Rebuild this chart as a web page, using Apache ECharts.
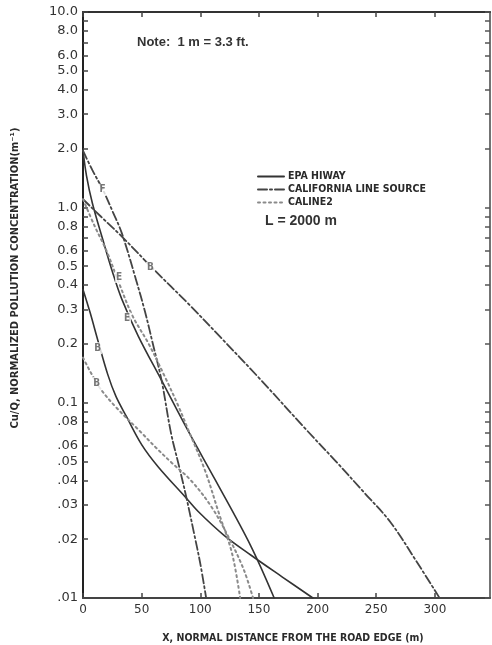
<!DOCTYPE html>
<html>
<head>
<meta charset="utf-8">
<script src="https://cdn.jsdelivr.net/npm/echarts@6/dist/echarts.min.js"></script>
<style>
html,body{margin:0;padding:0;background:#fff;}
#chart{width:492px;height:645px;}
</style>
</head>
<body>
<div id="chart"></div>
<script>
// ---- data (x: distance from road edge, m ; y: normalized concentration, 1/m)
const xTicks = [0, 50, 100, 150, 200, 250, 300];
const yTickValues = [10, 8, 6, 5, 4, 3, 2, 1, 0.8, 0.6, 0.5, 0.4, 0.3, 0.2, 0.1, 0.08, 0.06, 0.05, 0.04, 0.03, 0.02, 0.01];
const yTickLabels = ['10.0', '8.0', '6.0', '5.0', '4.0', '3.0', '2.0', '1.0', '0.8', '0.6', '0.5', '0.4', '0.3', '0.2', '0.1', '.08', '.06', '.05', '.04', '.03', '.02', '.01'];
const yMinorTicks = [10, 9, 8, 7, 6, 5, 4, 3, 2, 1, 0.9, 0.8, 0.7, 0.6, 0.5, 0.4, 0.3, 0.2, 0.1, 0.09, 0.08, 0.07, 0.06, 0.05, 0.04, 0.03, 0.02, 0.01];

const epaE = [[0,1.96],[3,1.45],[8,1.05],[17,0.68],[25,0.47],[33,0.34],[47,0.22],[67,0.13],[90,0.071],[113,0.04],[143,0.0185],[163,0.01]];
const epaB = [[0,0.38],[6,0.29],[12.5,0.21],[21,0.14],[28,0.108],[37,0.085],[50,0.061],[64,0.047],[87,0.033],[98,0.0278],[120,0.021],[143,0.0166],[170,0.0128],[196,0.01]];
const califF = [[0,1.95],[8,1.55],[17,1.23],[25,0.96],[33,0.74],[45,0.43],[53,0.29],[60,0.195],[67,0.13],[75,0.07],[82,0.047],[88,0.033],[95,0.021],[100,0.015],[105,0.01]];
const califB = [[0,1.1],[15,0.9],[34,0.70],[59,0.49],[90,0.32],[117,0.217],[150,0.134],[191,0.072],[215,0.0505],[240,0.0345],[262,0.0245],[284,0.0155],[304,0.01]];
const calineE = [[0,1.1],[10,0.8],[20,0.6],[30,0.42],[42,0.28],[56,0.2],[70,0.135],[81,0.097],[90,0.072],[104,0.045],[116,0.027],[127,0.017],[134,0.01]];
const calineB = [[0,0.17],[14,0.12],[28,0.095],[50,0.07],[62,0.059],[76,0.049],[92,0.04],[110,0.029],[125,0.02],[137,0.014],[145,0.01]];

const stabilityLabels = [['F',16.7,1.23],['B',57.5,0.49],['E',30.8,0.44],['E',37.5,0.27],['B',12.5,0.19],['B',11.7,0.126]];

const seriesNames = ['EPA HIWAY', 'CALIFORNIA LINE SOURCE', 'CALINE2'];

// ---- styles
const INK = '#2a2a2a';
const condensed = '"Liberation Sans Narrow","DejaVu Sans Condensed","Roboto Condensed",sans-serif';
const styles = {
  'EPA HIWAY': {color: '#333', width: 1.6, type: 'solid'},
  'CALIFORNIA LINE SOURCE': {color: '#444', width: 1.8, type: [9, 3, 2, 3]},
  'CALINE2': {color: '#8a8a8a', width: 2, type: [2, 3.5]}
};

function lineSeries(name, data) {
  const s = styles[name];
  return {
    name: name, type: 'line', data: data, smooth: 0.35, symbol: 'none', showSymbol: false,
    lineStyle: {color: s.color, width: s.width, type: s.type, cap: 'round'},
    itemStyle: {color: s.color}, z: 2
  };
}

function yLabel(v) {
  for (let i = 0; i < yTickValues.length; i++) {
    if (Math.abs(v - yTickValues[i]) / yTickValues[i] < 1e-6) return yTickLabels[i];
  }
  return '';
}

const chart = echarts.init(document.getElementById('chart'), null, {renderer: 'canvas'});
chart.setOption({
  animation: false,
  backgroundColor: '#fff',
  grid: {left: 83, top: 12, right: 2, bottom: 47},
  legend: {
    orient: 'vertical', left: 252, top: 166, itemWidth: 26, itemHeight: 8, itemGap: 2,
    data: seriesNames,
    itemStyle: {opacity: 0},
    textStyle: {fontFamily: condensed, fontWeight: 'bold', fontSize: 10.5, color: INK, padding: [0, 0, 0, -1]}
  },
  xAxis: [{
    type: 'value', min: 0, max: 347, interval: 50,
    axisLine: {onZero: false, lineStyle: {color: '#444', width: 2}},
    axisTick: {inside: true, length: 5, lineStyle: {color: '#444', width: 1.5}, customValues: xTicks},
    axisLabel: {customValues: xTicks, margin: 6, fontFamily: '"DejaVu Sans",sans-serif', fontSize: 12, color: '#333'},
    splitLine: {show: false}
  }, {
    type: 'value', position: 'top', min: 0, max: 347, interval: 50,
    axisLine: {show: true, onZero: false, lineStyle: {color: '#333', width: 2}},
    axisTick: {inside: true, length: 5, lineStyle: {color: '#444', width: 1.5}, customValues: xTicks},
    axisLabel: {show: false}, splitLine: {show: false}
  }],
  yAxis: [{
    type: 'log', logBase: 10, min: 0.01, max: 10,
    axisLine: {show: true, onZero: false, lineStyle: {color: '#222', width: 2}},
    axisTick: {show: true, inside: true, length: 5, lineStyle: {color: '#444', width: 1.5}, customValues: yMinorTicks},
    axisLabel: {customValues: yTickValues, formatter: yLabel, margin: 5, fontFamily: '"DejaVu Sans",sans-serif', fontSize: 13, color: '#333'},
    splitLine: {show: false}
  }, {
    type: 'log', logBase: 10, min: 0.01, max: 10, position: 'right',
    axisLine: {show: true, onZero: false, lineStyle: {color: '#444', width: 1.5}},
    axisTick: {show: true, inside: true, length: 5, lineStyle: {color: '#555', width: 1.5}, customValues: yMinorTicks},
    axisLabel: {show: false}, splitLine: {show: false}
  }],
  graphic: [
    {type: 'text', left: 137, top: 36, style: {text: 'Note:  1 m = 3.3 ft.', fontFamily: '"Liberation Sans",Arial,sans-serif', fontWeight: 'bold', fontSize: 13, fill: '#333'}},
    {type: 'text', left: 265, top: 214, style: {text: 'L = 2000 m', fontFamily: '"Liberation Sans",Arial,sans-serif', fontWeight: 'bold', fontSize: 14, fill: '#333'}},
    {type: 'text', x: 293, y: 638, style: {text: 'X, NORMAL DISTANCE FROM THE ROAD EDGE (m)', align: 'center', verticalAlign: 'middle', fontFamily: condensed, fontWeight: 'bold', fontSize: 10.5, fill: INK}},
    {type: 'text', x: 15, y: 278, rotation: Math.PI / 2, style: {text: 'Cu/Q, NORMALIZED POLLUTION CONCENTRATION(m⁻¹)', align: 'center', verticalAlign: 'middle', fontFamily: condensed, fontWeight: 'bold', fontSize: 11, fill: INK}}
  ],
  series: [
    lineSeries('EPA HIWAY', epaE),
    lineSeries('EPA HIWAY', epaB),
    lineSeries('CALIFORNIA LINE SOURCE', califF),
    lineSeries('CALIFORNIA LINE SOURCE', califB),
    lineSeries('CALINE2', calineE),
    lineSeries('CALINE2', calineB),
    {
      type: 'scatter', symbolSize: 0, z: 5, silent: true,
      data: stabilityLabels.map(d => ({name: d[0], value: [d[1], d[2]]})),
      label: {show: true, position: 'inside', formatter: p => p.name, fontFamily: condensed, fontWeight: 'bold', fontSize: 10, color: '#555', backgroundColor: '#fff', padding: [1, 1]}
    }
  ]
});
</script>
</body>
</html>
